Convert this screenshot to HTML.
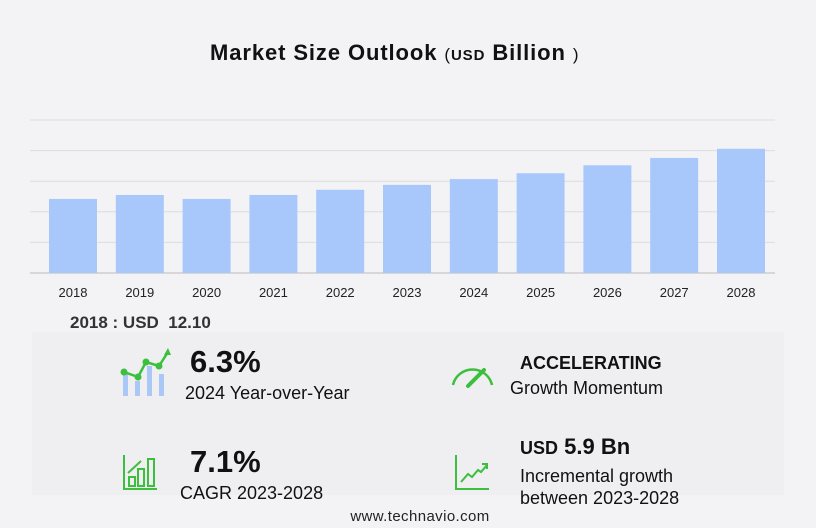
<!DOCTYPE html>
<html><head><meta charset="utf-8"><style>
body{margin:0;width:816px;height:528px;background:#f3f3f5;font-family:"Liberation Sans",sans-serif;position:relative;overflow:hidden}
.a{position:absolute;white-space:nowrap;color:#111}
</style></head><body>
<div class="a" style="left:210px;top:40px;font-size:22px;font-weight:bold;letter-spacing:0.9px">Market Size Outlook <span style="font-size:17px;font-weight:normal">(</span><span style="font-size:15px">USD</span> Billion <span style="font-size:17px;font-weight:normal">)</span></div>
<svg id="chart" width="816" height="310" style="position:absolute;left:0;top:0"></svg>
<div style="position:absolute;left:32px;top:332px;width:752px;height:163px;background:#efeff1"></div>
<div class="a" style="left:70px;top:313px;font-size:17px;font-weight:bold;color:#333">2018 : USD &nbsp;12.10</div>
<svg width="60" height="50" style="position:absolute;left:118px;top:348px">
<rect x="5" y="26" width="5" height="22" fill="#a9c8f5"/><rect x="17" y="33" width="5" height="15" fill="#a9c8f5"/><rect x="29" y="18" width="5" height="30" fill="#a9c8f5"/><rect x="41" y="26" width="5" height="22" fill="#a9c8f5"/>
<polyline points="6,24 20,29 28,14 41,18 50,4" fill="none" stroke="#3cbf3c" stroke-width="2.5"/><circle cx="6" cy="24" r="3.5" fill="#3cbf3c"/><circle cx="20" cy="29" r="3.5" fill="#3cbf3c"/><circle cx="28" cy="14" r="3.5" fill="#3cbf3c"/><circle cx="41" cy="18" r="3.5" fill="#3cbf3c"/><polygon points="50,0 46,7 53,7" fill="#3cbf3c"/></svg>
<div class="a" style="left:190px;top:344px;font-size:31px;font-weight:bold">6.3%</div>
<div class="a" style="left:185px;top:383px;font-size:18px">2024 Year-over-Year</div>
<svg width="46" height="30" style="position:absolute;left:450px;top:360px">
<path d="M3,25 A20,20 0 0 1 42,25" fill="none" stroke="#3cbf3c" stroke-width="2.5"/><line x1="18" y1="26" x2="34" y2="10" stroke="#3cbf3c" stroke-width="4" stroke-linecap="round"/></svg>
<div class="a" style="left:520px;top:353px;font-size:18px;font-weight:bold">ACCELERATING</div>
<div class="a" style="left:510px;top:378px;font-size:18px">Growth Momentum</div>
<svg width="36" height="36" style="position:absolute;left:123px;top:455px">
<g fill="none" stroke="#3cbf3c" stroke-width="2"><polyline points="1,0 1,34 34,34"/><rect x="6" y="22" width="6" height="9"/><rect x="15" y="14" width="6" height="17"/><rect x="25" y="4" width="6" height="27"/><polyline points="5,18 18,6"/></g></svg>
<div class="a" style="left:190px;top:444px;font-size:31px;font-weight:bold">7.1%</div>
<div class="a" style="left:180px;top:483px;font-size:18px">CAGR 2023-2028</div>
<svg width="36" height="36" style="position:absolute;left:455px;top:455px">
<g fill="none" stroke="#3cbf3c" stroke-width="2"><polyline points="1,0 1,34 34,34"/><polyline points="6,27 13,19 17,22 23,15 26,17 32,10"/><polyline points="27,9 32,9 32,14"/></g></svg>
<div class="a" style="left:520px;top:434px;font-size:22px;font-weight:bold"><span style="font-size:18px">USD</span> 5.9 Bn</div>
<div class="a" style="left:520px;top:465px;font-size:18px;line-height:22px">Incremental growth<br>between 2023-2028</div>
<div class="a" style="left:0;width:840px;text-align:center;top:508px;font-size:15px;color:#222;letter-spacing:0.4px">www.technavio.com</div>
<script>
const years=["2018","2019","2020","2021","2022","2023","2024","2025","2026","2027","2028"];
const values=[12.1,12.75,12.1,12.75,13.6,14.4,15.35,16.3,17.6,18.8,20.3];
const ticks=[0,5,10,15,20,25];
const svg=document.getElementById('chart');const NS="http://www.w3.org/2000/svg";
const y=v=>273-v*6.12;const x=i=>49+i*66.8;
ticks.forEach(t=>{const l=document.createElementNS(NS,'line');


l.setAttribute('x1',30);l.setAttribute('x2',775);l.setAttribute('y1',y(t));l.setAttribute('y2',y(t));
l.setAttribute('stroke',t==0?'#bbb':'#dcdce0');l.setAttribute('stroke-width',1);svg.appendChild(l);});
values.forEach((v,i)=>{const r=document.createElementNS(NS,'rect');


r.setAttribute('x',x(i));r.setAttribute('width',48);r.setAttribute('y',y(v));r.setAttribute('height',273-y(v));r.setAttribute('fill','#a8c8fc');svg.appendChild(r);
const t=document.createElementNS(NS,'text');


t.setAttribute('x',x(i)+24);t.setAttribute('y',297);t.setAttribute('text-anchor','middle');t.setAttribute('font-size','13');t.setAttribute('fill','#222');t.setAttribute('font-family','Liberation Sans');t.textContent=years[i];svg.appendChild(t);});
</script>
</body></html>
